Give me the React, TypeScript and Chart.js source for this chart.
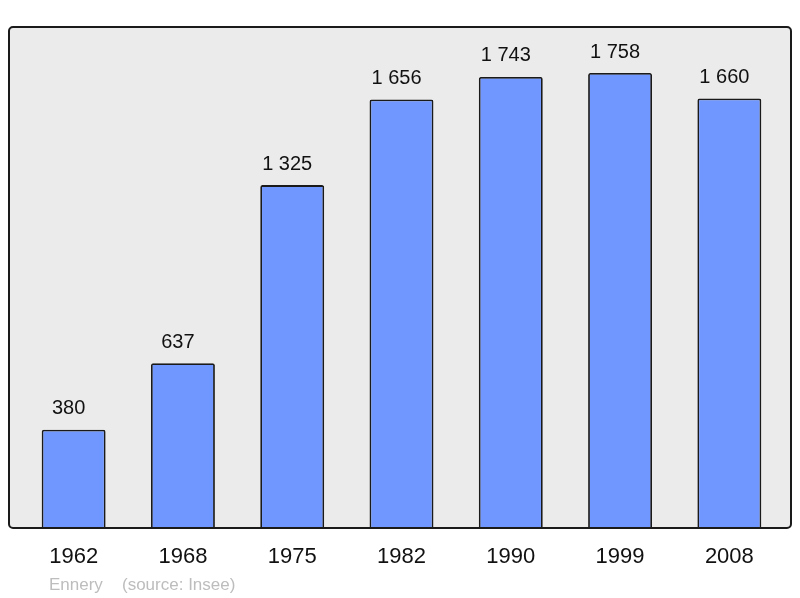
import React, { useEffect, useRef } from "react";
import { Chart, registerables } from "chart.js";

Chart.register(...registerables);

const years = ["1962", "1968", "1975", "1982", "1990", "1999", "2008"];
const population = [380, 637, 1325, 1656, 1743, 1758, 1660];
const commune = "Ennery";
const sourceText = "(source: Insee)";

const FONT = "'Liberation Sans', Arial, sans-serif";

const fmt = (v: number) => {
  const s = String(v);
  return s.length > 3 ? s.slice(0, s.length - 3) + " " + s.slice(-3) : s;
};

const framePath = (ctx: CanvasRenderingContext2D) => {
  const x0 = 9, y0 = 27, x1 = 791, y1 = 528, r = 4;
  ctx.beginPath();
  ctx.moveTo(x0 + r, y0);
  ctx.lineTo(x1 - r, y0);
  ctx.arcTo(x1, y0, x1, y0 + r, r);
  ctx.lineTo(x1, y1 - r);
  ctx.arcTo(x1, y1, x1 - r, y1, r);
  ctx.lineTo(x0 + r, y1);
  ctx.arcTo(x0, y1, x0, y1 - r, r);
  ctx.lineTo(x0, y0 + r);
  ctx.arcTo(x0, y0, x0 + r, y0, r);
  ctx.closePath();
};

const framePlugin = {
  id: "frame",
  beforeDraw(chart: any) {
    const ctx = chart.ctx;
    ctx.save();
    framePath(ctx);
    ctx.fillStyle = "#ebebeb";
    ctx.fill();
    ctx.restore();
  },
  afterDatasetsDraw(chart: any) {
    const ctx = chart.ctx;
    ctx.save();
    framePath(ctx);
    ctx.strokeStyle = "#1a1a1a";
    ctx.lineWidth = 2;
    ctx.stroke();

    const meta = chart.getDatasetMeta(0);
    ctx.fillStyle = "#111111";
    ctx.font = `20px ${FONT}`;
    ctx.textAlign = "center";
    ctx.textBaseline = "middle";
    meta.data.forEach((bar: any, i: number) => {
      ctx.fillText(fmt(population[i]), bar.x - 5, bar.y - 21);
    });

    ctx.fillStyle = "#bdbdbd";
    ctx.font = `17px ${FONT}`;
    ctx.textAlign = "left";
    ctx.fillText(commune, 49, 585);
    ctx.fillText(sourceText, 122, 585);
    ctx.restore();
  },
};

export default function App() {
  const ref = useRef<HTMLCanvasElement | null>(null);
  useEffect(() => {
    if (!ref.current) return;
    const chart = new Chart(ref.current, {
      type: "bar",
      data: {
        labels: years,
        datasets: [
          {
            data: population,
            backgroundColor: "#7097ff",
            borderColor: "#1a1a1a",
            borderWidth: 1.8,
            borderRadius: 2,
            borderSkipped: "start",
            barPercentage: 0.585,
            categoryPercentage: 1,
          },
        ],
      },
      options: {
        responsive: false,
        animation: false,
        layout: { padding: { left: 19, right: 16, top: 27, bottom: 0 } },
        plugins: { legend: { display: false }, tooltip: { enabled: false } },
        scales: {
          x: {
            grid: { display: false, drawTicks: false },
            border: { display: false },
            afterFit: (scale: any) => {
              scale.height = 70;
            },
            ticks: {
              padding: 16,
              color: "#111111",
              font: { size: 22, family: FONT },
            },
          },
          y: {
            display: false,
            min: 0,
            max: 1936,
          },
        },
      },
      plugins: [framePlugin],
    });
    return () => chart.destroy();
  }, []);
  return (
    <div style={{ position: "fixed", left: 0, top: 0, width: 800, height: 598, background: "#fff" }}>
      <canvas ref={ref} width={800} height={598} />
    </div>
  );
}
